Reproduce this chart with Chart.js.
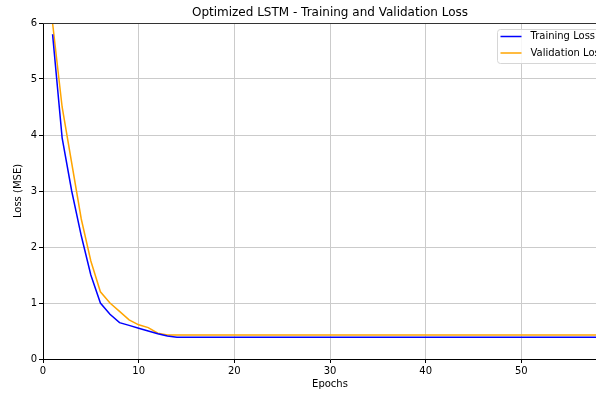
<!DOCTYPE html>
<html>
<head>
<meta charset="utf-8">
<script src="https://cdn.jsdelivr.net/npm/chart.js@4/dist/chart.umd.min.js"></script>
<style>
  html, body { margin: 0; padding: 0; overflow: hidden; background: #fff; }
  #wrap { width: 596px; height: 394px; overflow: hidden; }
</style>
</head>
<body>
<div id="wrap"><canvas id="c" width="618" height="394"></canvas></div>
<script>
const chartTitle = 'Optimized LSTM - Training and Validation Loss';
const xLabel = 'Epochs';
const yLabel = 'Loss (MSE)';
const seriesNames = ['Training Loss', 'Validation Loss'];

const epochs = [
  1, 2, 3, 4, 5, 6, 7, 8, 9, 10,
  11, 12, 13, 14, 15, 16, 17, 18, 19, 20,
  21, 22, 23, 24, 25, 26, 27, 28, 29, 30,
  31, 32, 33, 34, 35, 36, 37, 38, 39, 40,
  41, 42, 43, 44, 45, 46, 47, 48, 49, 50,
  51, 52, 53, 54, 55, 56, 57, 58, 59, 60
];
const trainLoss = [
  5.8, 3.95, 3.0, 2.2, 1.5, 1.0, 0.8, 0.65, 0.6, 0.55,
  0.5, 0.45, 0.41, 0.39, 0.39, 0.39, 0.39, 0.39, 0.39, 0.39,
  0.39, 0.39, 0.39, 0.39, 0.39, 0.39, 0.39, 0.39, 0.39, 0.39,
  0.39, 0.39, 0.39, 0.39, 0.39, 0.39, 0.39, 0.39, 0.39, 0.39,
  0.39, 0.39, 0.39, 0.39, 0.39, 0.39, 0.39, 0.39, 0.39, 0.39,
  0.39, 0.39, 0.39, 0.39, 0.39, 0.39, 0.39, 0.39, 0.39, 0.39
];
const valLoss = [
  6.0, 4.5, 3.5, 2.5, 1.75, 1.2, 1.0, 0.85, 0.7, 0.61,
  0.56, 0.46, 0.43, 0.43, 0.43, 0.43, 0.43, 0.43, 0.43, 0.43,
  0.43, 0.43, 0.43, 0.43, 0.43, 0.43, 0.43, 0.43, 0.43, 0.43,
  0.43, 0.43, 0.43, 0.43, 0.43, 0.43, 0.43, 0.43, 0.43, 0.43,
  0.43, 0.43, 0.43, 0.43, 0.43, 0.43, 0.43, 0.43, 0.43, 0.43,
  0.43, 0.43, 0.43, 0.43, 0.43, 0.43, 0.43, 0.43, 0.43, 0.43
];
const xTicks = [0, 10, 20, 30, 40, 50, 60];
const yTicks = [0, 1, 2, 3, 4, 5, 6];

const FONT = '"DejaVu Sans", sans-serif';
const GRID = '#cbcbcb';

function toPoints(values) {
  return values.map((v, i) => ({ x: epochs[i], y: v }));
}

// Axes frame top/right edges, centred title and a boxed legend in the upper right
const decorations = {
  id: 'decorations',
  afterDraw(chart) {
    const { ctx, chartArea: a } = chart;
    ctx.save();
    ctx.strokeStyle = '#333';
    ctx.lineWidth = 1;
    ctx.beginPath();
    ctx.moveTo(a.left, Math.round(a.top) + 0.5);
    ctx.lineTo(a.right, Math.round(a.top) + 0.5);
    ctx.moveTo(Math.round(a.right) - 0.5, a.top);
    ctx.lineTo(Math.round(a.right) - 0.5, a.bottom);
    ctx.stroke();

    ctx.fillStyle = '#000';
    ctx.font = '12px ' + FONT;
    ctx.textAlign = 'center';
    ctx.textBaseline = 'middle';
    ctx.fillText(chartTitle, (a.left + a.right) / 2, 13);

    const boxW = 115, boxH = 34;
    const bx = Math.round(a.right - 5 - boxW) + 0.5, by = a.top + 6 + 0.5;
    ctx.beginPath();
    ctx.roundRect(bx, by, boxW, boxH, 3);
    ctx.fillStyle = 'rgba(255,255,255,0.85)';
    ctx.fill();
    ctx.strokeStyle = '#d6d6d6';
    ctx.stroke();

    ctx.font = '10px ' + FONT;
    ctx.textAlign = 'left';
    chart.data.datasets.forEach((ds, i) => {
      const cy = by + 7 + i * 16.5;
      ctx.strokeStyle = ds.borderColor;
      ctx.lineWidth = 1.5;
      ctx.beginPath();
      ctx.moveTo(bx + 3, cy);
      ctx.lineTo(bx + 24, cy);
      ctx.stroke();
      ctx.fillStyle = '#000';
      ctx.fillText(ds.label, bx + 33, cy);
    });
    ctx.restore();
  }
};

new Chart(document.getElementById('c'), {
  type: 'line',
  data: {
    datasets: [
      { label: seriesNames[0], data: toPoints(trainLoss), borderColor: '#0000ff', borderWidth: 1.5, pointRadius: 0, fill: false, tension: 0 },
      { label: seriesNames[1], data: toPoints(valLoss), borderColor: '#ffa500', borderWidth: 1.5, pointRadius: 0, fill: false, tension: 0 }
    ]
  },
  options: {
    responsive: false,
    devicePixelRatio: 1,
    animation: false,
    layout: { padding: { top: 23, right: 1, bottom: 0, left: 0 } },
    plugins: {
      legend: { display: false },
      title: { display: false },
      tooltip: { enabled: false }
    },
    scales: {
      x: {
        type: 'linear',
        min: xTicks[0],
        max: xTicks[xTicks.length - 1],
        afterBuildTicks: s => { s.ticks = xTicks.map(v => ({ value: v })); },
        afterFit: s => { s.height = 35; s.paddingLeft = 0; s.paddingRight = 0; },
        grid: { color: GRID, lineWidth: 1, tickColor: '#000', tickLength: 4 },
        border: { color: '#000', width: 1 },
        ticks: { color: '#000', font: { family: FONT, size: 10 }, padding: 2, maxRotation: 0 },
        title: { display: true, text: xLabel, color: '#000', font: { family: FONT, size: 10 }, padding: { top: 0, bottom: 4 } }
      },
      y: {
        min: yTicks[0],
        max: yTicks[yTicks.length - 1],
        afterBuildTicks: s => { s.ticks = yTicks.map(v => ({ value: v })); },
        afterFit: s => { s.width = 43; s.paddingTop = 0; s.paddingBottom = 0; },
        grid: { color: GRID, lineWidth: 1, tickColor: '#000', tickLength: 4 },
        border: { color: '#000', width: 1 },
        ticks: { color: '#000', font: { family: FONT, size: 10 }, padding: 2 },
        title: { display: true, text: yLabel, color: '#000', font: { family: FONT, size: 10 }, padding: { top: 12, bottom: 0 } }
      }
    }
  },
  plugins: [decorations]
});
</script>
</body>
</html>
